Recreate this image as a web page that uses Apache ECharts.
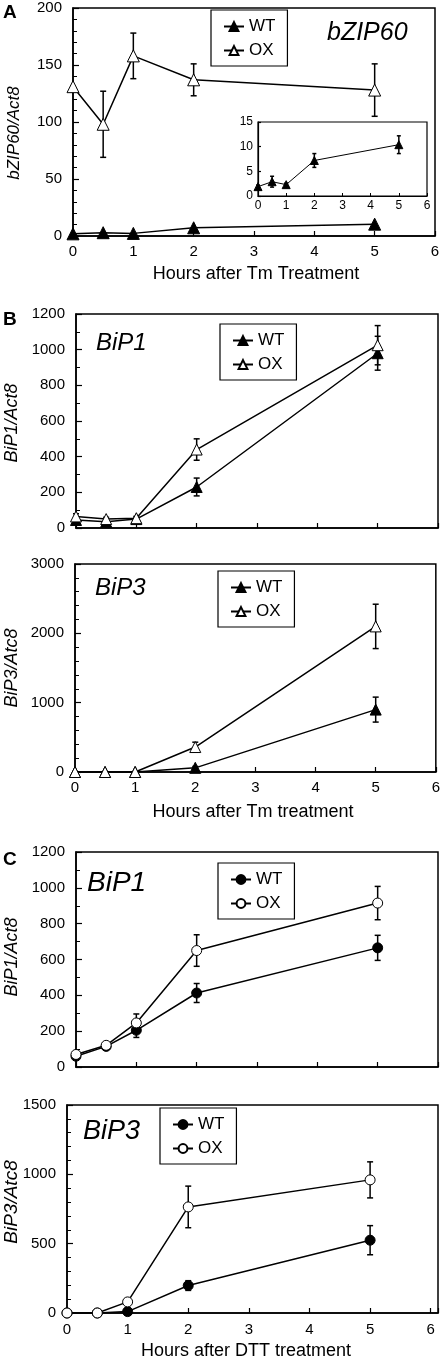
<!DOCTYPE html>
<html>
<head>
<meta charset="utf-8">
<script src="https://cdn.jsdelivr.net/npm/echarts@6/dist/echarts.min.js"></script>
<style>
html,body{margin:0;padding:0;background:#fff;}
#c{width:443px;height:1362px;}
</style>
</head>
<body>
<div id="c"></div>
<script>
// ---------- data ----------
const hours = [0, 0.5, 1, 2, 5];

// Panel A (bZIP60, Tm)
const aWT = [1.9, 2.9, 2.3, 7.2, 10.4];
const aWTerr = [0.3, 1.1, 0.3, 1.4, 1.8];
const aOX = [131, 98, 158, 137, 128];
const aOXerr = [0, 29, 20, 14, 23];

// Panel B top (BiP1, Tm)
const b1WT = [45, 35, 50, 230, 980];
const b1WTerr = [10, 10, 10, 50, 95];
const b1OX = [65, 50, 55, 440, 1025];
const b1OXerr = [15, 10, 10, 60, 110];

// Panel B bottom (BiP3, Tm)
const b3WT = [0, 0, 0, 60, 900];
const b3WTerr = [0, 0, 0, 20, 180];
const b3OX = [0, 0, 0, 360, 2100];
const b3OXerr = [0, 0, 0, 70, 320];

// Panel C top (BiP1, DTT)
const c1WT = [60, 115, 205, 413, 665];
const c1WTerr = [10, 10, 40, 53, 70];
const c1OX = [70, 121, 246, 650, 915];
const c1OXerr = [10, 10, 50, 88, 93];

// Panel C bottom (BiP3, DTT)
const c3WT = [0, 0, 10, 198, 525];
const c3WTerr = [0, 0, 5, 35, 105];
const c3OX = [0, 0, 80, 765, 960];
const c3OXerr = [0, 0, 10, 150, 130];

// ---------- helpers ----------
const FONT = '"Liberation Sans", Arial, Helvetica, sans-serif';
const pts = (ys) => hours.map((h, i) => [h, ys[i]]);
const errPts = (ys, es) => hours.map((h, i) => [h, ys[i], es[i]]);

function xAx(gi, showLabels, max, fs, margin) {
  return {
    type: 'value', gridIndex: gi, min: 0, max: max || 6, interval: 1,
    axisLine: {show: true, lineStyle: {color: '#000', width: 1.5}},
    axisTick: {show: true, inside: true, length: 5, lineStyle: {color: '#000', width: 1.2}},
    axisLabel: {show: showLabels, color: '#000', fontFamily: FONT, fontSize: fs || 15, margin: margin || 8,
      formatter: v => (Number.isInteger(v) ? String(v) : '')},
    splitLine: {show: false}
  };
}
function yAx(gi, max, interval, minorSplit, fs, margin, tickLen) {
  return {
    type: 'value', gridIndex: gi, min: 0, max: max, interval: interval,
    axisLine: {show: true, lineStyle: {color: '#000', width: 1.5}},
    axisTick: {show: true, inside: true, length: tickLen || 6, lineStyle: {color: '#000', width: 1.2}},
    minorTick: {show: minorSplit > 1, splitNumber: minorSplit || 1, length: 4, lineStyle: {color: '#000', width: 1}},
    axisLabel: {color: '#000', fontFamily: FONT, fontSize: fs || 15, margin: margin || 11,
      formatter: v => String(v)},
    splitLine: {show: false}, minorSplitLine: {show: false}
  };
}
function lineSeries(name, gi, ys, symbol, filled, size) {
  return {
    name: name, type: 'line', xAxisIndex: gi, yAxisIndex: gi,
    data: pts(ys), symbol: symbol, symbolSize: size, showAllSymbol: true,
    lineStyle: {color: '#000', width: 1.5},
    itemStyle: {color: filled ? '#000' : '#fff', borderColor: '#000', borderWidth: 1},
    z: 4, animation: false
  };
}
function errSeries(gi, ys, es, cap) {
  return {
    type: 'custom', xAxisIndex: gi, yAxisIndex: gi, data: errPts(ys, es), z: 3, animation: false,
    encode: {x: 0, y: 1}, silent: true,
    renderItem: function (params, api) {
      const x = api.value(0), y = api.value(1), e = api.value(2);
      if (!e) return null;
      const t = api.coord([x, y + e]), b = api.coord([x, y - e]);
      const w = cap || 3;
      const st = {stroke: '#000', lineWidth: 1.5};
      return {type: 'group', children: [
        {type: 'line', shape: {x1: t[0], y1: t[1], x2: b[0], y2: b[1]}, style: st},
        {type: 'line', shape: {x1: t[0] - w, y1: t[1], x2: t[0] + w, y2: t[1]}, style: st},
        {type: 'line', shape: {x1: b[0] - w, y1: b[1], x2: b[0] + w, y2: b[1]}, style: st}
      ]};
    }
  };
}
function legend(names, left, top) {
  return {
    data: names, left: left, top: top, orient: 'vertical', selectedMode: false,
    borderColor: '#000', borderWidth: 1.2, padding: [8, 12, 7, 12], itemGap: 7,
    itemWidth: 20, itemHeight: 11, itemTextGap: 12,
    textStyle: {color: '#000', fontFamily: FONT, fontSize: 17},
    formatter: n => n.split('_')[0]
  };
}
function label(text, x, y, size) {
  return {type: 'text', x: x, y: y, z: 10,
    style: {text: text, font: 'italic ' + size + 'px ' + FONT, fill: '#000', textAlign: 'left', textVerticalAlign: 'middle'}};
}
function vtitle(text, x, y, size) {
  return {type: 'text', x: x, y: y, rotation: Math.PI / 2, z: 10,
    style: {text: text, font: 'italic ' + size + 'px ' + FONT, fill: '#000', textAlign: 'center', textVerticalAlign: 'middle'}};
}
function htitle(text, x, y, size) {
  return {type: 'text', x: x, y: y, z: 10,
    style: {text: text, font: size + 'px ' + FONT, fill: '#000', textAlign: 'center', textVerticalAlign: 'middle'}};
}
function letter(text, x, y) {
  return {type: 'text', x: x, y: y, z: 10,
    style: {text: text, font: 'bold 19px ' + FONT, fill: '#000', textAlign: 'left', textVerticalAlign: 'middle'}};
}

const gridBase = {show: true, borderColor: '#000', borderWidth: 1.5, backgroundColor: 'transparent'};

const option = {
  animation: false,
  backgroundColor: '#fff',
  grid: [
    Object.assign({left: 73, top: 8, width: 362, height: 228}, gridBase),   // 0 A
    Object.assign({left: 258, top: 122, width: 169, height: 74}, gridBase, {backgroundColor: '#fff', borderWidth: 1.2}), // 1 inset
    Object.assign({left: 76, top: 314, width: 362, height: 214}, gridBase),  // 2 B1
    Object.assign({left: 75, top: 564, width: 363, height: 208}, gridBase),  // 3 B3
    Object.assign({left: 76, top: 852, width: 362, height: 215}, gridBase),  // 4 C1
    Object.assign({left: 67, top: 1105, width: 371, height: 208}, gridBase)  // 5 C3
  ],
  xAxis: [
    xAx(0, true),
    Object.assign(xAx(1, true, 6, 12, 4), {axisTick: {show: true, inside: true, length: 3, lineStyle: {color: '#000'}}, axisLine: {lineStyle: {color: '#000', width: 1.2}}}),
    xAx(2, false),
    xAx(3, true),
    xAx(4, false),
    xAx(5, true, 6.12, 15, 9)
  ],
  yAxis: [
    yAx(0, 200, 50, 5),
    Object.assign(yAx(1, 15, 5, 1, 12, 5, 3), {axisLine: {lineStyle: {color: '#000', width: 1.2}}}),
    yAx(2, 1200, 200, 2),
    yAx(3, 3000, 1000, 5),
    yAx(4, 1200, 200, 2),
    yAx(5, 1500, 500, 5)
  ],
  legend: [
    legend(['WT_A', 'OX_A'], 211, 10),
    legend(['WT_B1', 'OX_B1'], 220, 324),
    legend(['WT_B3', 'OX_B3'], 218, 571),
    legend(['WT_C1', 'OX_C1'], 218, 863),
    legend(['WT_C3', 'OX_C3'], 160, 1108)
  ],
  series: [
    errSeries(0, aOX, aOXerr), lineSeries('WT_A', 0, aWT, 'triangle', true, 12), lineSeries('OX_A', 0, aOX, 'triangle', false, 12),
    errSeries(1, aWT, aWTerr, 2), Object.assign(lineSeries('WT_inset', 1, aWT, 'triangle', true, 8), {lineStyle: {color: '#000', width: 1}}),
    errSeries(2, b1WT, b1WTerr), errSeries(2, b1OX, b1OXerr),
    lineSeries('WT_B1', 2, b1WT, 'triangle', true, 11), lineSeries('OX_B1', 2, b1OX, 'triangle', false, 11),
    errSeries(3, b3WT, b3WTerr), errSeries(3, b3OX, b3OXerr),
    lineSeries('WT_B3', 3, b3WT, 'triangle', true, 11), lineSeries('OX_B3', 3, b3OX, 'triangle', false, 11),
    errSeries(4, c1WT, c1WTerr), errSeries(4, c1OX, c1OXerr),
    lineSeries('WT_C1', 4, c1WT, 'circle', true, 10), lineSeries('OX_C1', 4, c1OX, 'circle', false, 10),
    errSeries(5, c3WT, c3WTerr), errSeries(5, c3OX, c3OXerr),
    lineSeries('WT_C3', 5, c3WT, 'circle', true, 10), lineSeries('OX_C3', 5, c3OX, 'circle', false, 10)
  ],
  graphic: [
    letter('A', 3, 13), letter('B', 3, 320), letter('C', 3, 860),
    label('bZIP60', 327, 33, 25),
    label('BiP1', 96, 343, 24),
    label('BiP3', 95, 588, 24),
    label('BiP1', 87, 883, 28),
    label('BiP3', 83, 1131, 27),
    vtitle('bZIP60/Act8', 14, 133, 17),
    vtitle('BiP1/Act8', 12, 423, 18),
    vtitle('BiP3/Atc8', 12, 668, 18),
    vtitle('BiP1/Act8', 12, 957, 18),
    vtitle('BiP3/Atc8', 12, 1202, 19),
    htitle('Hours after Tm Treatment', 256, 274, 18),
    htitle('Hours after Tm treatment', 253, 812, 18),
    htitle('Hours after DTT treatment', 246, 1351, 18)
  ]
};

const chart = echarts.init(document.getElementById('c'), null, {renderer: 'canvas'});
chart.setOption(option);
</script>
</body>
</html>
